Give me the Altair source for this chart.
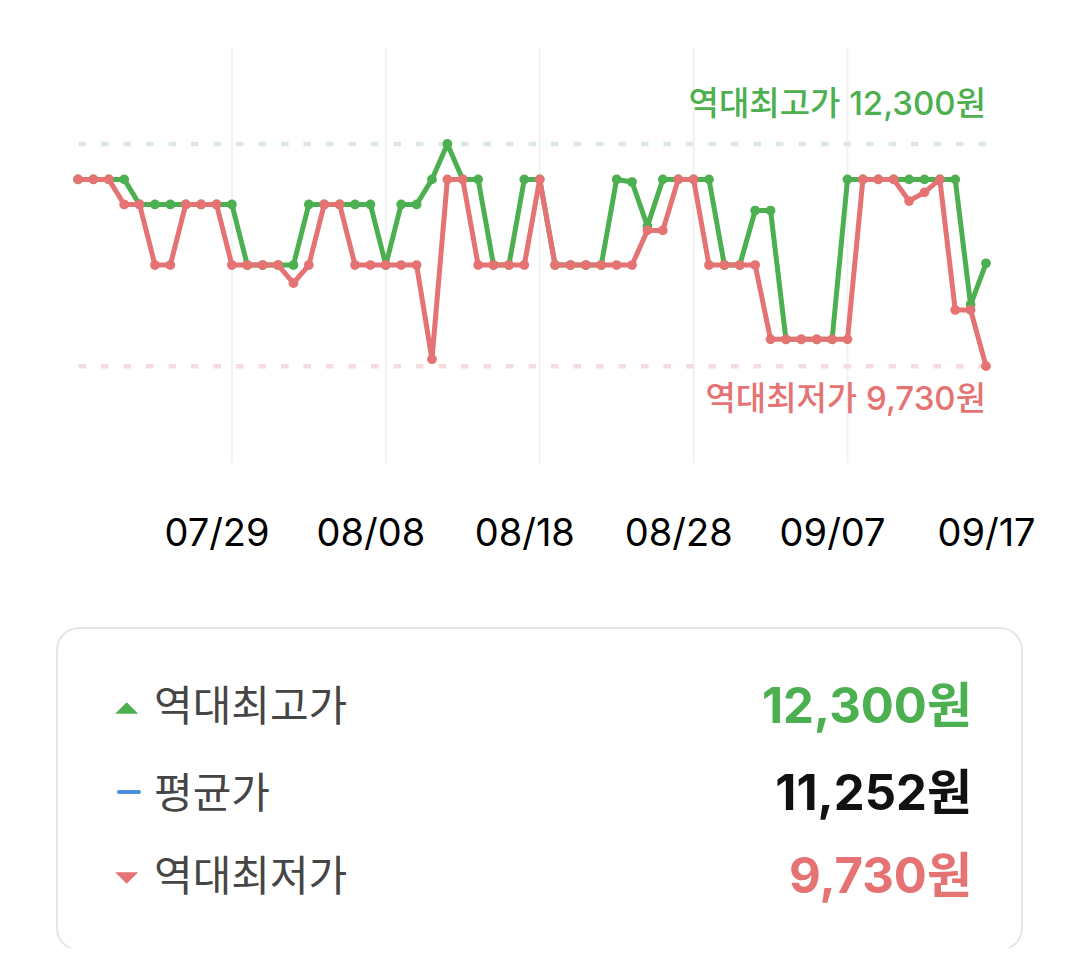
import altair as alt
import pandas as pd

# ---------------- data ----------------
dates = [d.strftime("%Y-%m-%dT00:00:00") for d in pd.date_range("2024-07-20", "2024-09-17", freq="D")]

high_prices = [11890, 11890, 11890, 11890, 11600, 11600, 11600, 11600, 11600, 11600,
               11600, 10900, 10900, 10900, 10900, 11600, 11600, 11600, 11600, 11600,
               10900, 11600, 11600, 11890, 12300, 11890, 11890, 10900, 10900, 11890,
               11890, 10900, 10900, 10900, 10900, 11890, 11860, 11350, 11890, 11890,
               11890, 11890, 10900, 10900, 11530, 11530, 10040, 10040, 10040, 10040,
               11890, 11890, 11890, 11890, 11890, 11890, 11890, 11890, 10440, 10920]

low_prices = [11890, 11890, 11890, 11600, 11600, 10900, 10900, 11600, 11600, 11600,
              10900, 10900, 10900, 10900, 10690, 10900, 11600, 11600, 10900, 10900,
              10900, 10900, 10900, 9810, 11890, 11890, 10900, 10900, 10900, 10900,
              11890, 10900, 10900, 10900, 10900, 10900, 10900, 11300, 11300, 11890,
              11890, 10900, 10900, 10900, 10900, 10040, 10040, 10040, 10040, 10040,
              10040, 11890, 11890, 11890, 11640, 11740, 11890, 10380, 10380, 9730]

tick_dates = ["2024-07-29", "2024-08-08", "2024-08-18", "2024-08-28", "2024-09-07", "2024-09-17"]
grid_dates = ["2024-07-30", "2024-08-09", "2024-08-19", "2024-08-29", "2024-09-08"]

record_high = 12300
record_low = 9730
average_price = 11252

ref_kinds = ["high", "low"]
ref_values = [record_high, record_low]
ref_labels = ["역대최고가 12,300원", "역대최저가 9,730원"]

summary_keys = ["high", "avg", "low"]
summary_labels = ["역대최고가", "평균가", "역대최저가"]
summary_values = ["12,300원", "11,252원", "9,730원"]

# ---------------- styling ----------------
GREEN = "#4caf50"
RED = "#e57373"
BLUE = "#4a8fe2"
GRAY_TEXT = "#454545"
FONT = "Inter, Noto Sans CJK KR"

prices = pd.DataFrame({"date": dates, "high": high_prices, "low": low_prices})
grid_df = pd.DataFrame({"date": [d + "T00:00:00" for d in grid_dates]})
refs = pd.DataFrame({"kind": ref_kinds, "value": ref_values, "label": ref_labels,
                     "date": [dates[-1]] * 2})
summary = pd.DataFrame({"key": summary_keys, "label": summary_labels, "value": summary_values})
box_df = pd.DataFrame({"box": [0]})


def dt(s):
    t = pd.Timestamp(s)
    return alt.DateTime(year=t.year, month=t.month, date=t.day)


x_scale = alt.Scale(domain=[dt(dates[0]), dt(dates[-1])], nice=False)
y_scale = alt.Scale(domain=[8610, 13410], nice=False, zero=False)
x_axis = alt.Axis(values=[dt(d) for d in tick_dates], format="%m/%d", labelFontSize=38,
                  labelFont="Inter", labelColor="#000000", ticks=False, domain=False,
                  grid=False, labelPadding=52, labelFlush=False, labelOverlap=False,
                  title=None)


def X(field="date:T"):
    return alt.X(field, scale=x_scale, axis=x_axis, title=None)


def Y(field):
    return alt.Y(field, scale=y_scale, axis=None, title=None)


grid = alt.Chart(grid_df).mark_rule(color="#f2f2f2", strokeWidth=2).encode(x=X())

ref_high_rule = alt.Chart(refs).transform_filter(alt.datum.kind == "high").mark_rule(
    color="#dbe9e6", strokeWidth=4.5, strokeDash=[7.5, 15]).encode(y=Y("value:Q"))
ref_low_rule = alt.Chart(refs).transform_filter(alt.datum.kind == "low").mark_rule(
    color="#f6dcdc", strokeWidth=4.5, strokeDash=[7.5, 15]).encode(y=Y("value:Q"))

ref_high_text = alt.Chart(refs).transform_filter(alt.datum.kind == "high").mark_text(
    align="right", baseline="middle", dy=-39, fontSize=33, font=FONT, color=GREEN,
    fontWeight=500).encode(x=X(), y=Y("value:Q"), text="label:N")
ref_low_text = alt.Chart(refs).transform_filter(alt.datum.kind == "low").mark_text(
    align="right", baseline="middle", dy=34, fontSize=33, font=FONT, color=RED,
    fontWeight=500).encode(x=X(), y=Y("value:Q"), text="label:N")

base = alt.Chart(prices)
high_line = base.mark_line(color=GREEN, strokeWidth=5, strokeJoin="round",
                           strokeCap="round").encode(x=X(), y=Y("high:Q"))
high_pts = base.mark_circle(color=GREEN, size=95, opacity=1).encode(x=X(), y=Y("high:Q"))
low_line = base.mark_line(color=RED, strokeWidth=5, strokeJoin="round",
                          strokeCap="round").encode(x=X(), y=Y("low:Q"))
low_pts = base.mark_circle(color=RED, size=95, opacity=1).encode(x=X(), y=Y("low:Q"))

# ---------------- summary box ----------------
box = alt.Chart(box_df).mark_rect(fill="white", stroke="#e6e6e6", strokeWidth=2,
                                  cornerRadius=22).encode(
    x=alt.value(-21), x2=alt.value(944), y=alt.value(580), y2=alt.value(902))

row_y = {"high": 660, "avg": 747, "low": 830}
value_colors = {"high": GREEN, "avg": "#111111", "low": RED}

layers = [box]
up_tri = alt.Chart(summary).transform_filter(alt.datum.key == "high").mark_point(
    shape="M-1,0.5L1,0.5L0,-0.5Z", filled=True, size=529, color=GREEN, opacity=1,
    strokeWidth=0).encode(x=alt.value(48.7), y=alt.value(row_y["high"]))
down_tri = alt.Chart(summary).transform_filter(alt.datum.key == "low").mark_point(
    shape="M-1,-0.5L1,-0.5L0,0.5Z", filled=True, size=529, color=RED, opacity=1,
    strokeWidth=0).encode(x=alt.value(48.7), y=alt.value(row_y["low"]))
avg_dash = alt.Chart(summary).transform_filter(alt.datum.key == "avg").mark_rule(
    color=BLUE, strokeWidth=4, strokeCap="round").encode(
    x=alt.value(41), x2=alt.value(61), y=alt.value(row_y["avg"] - 3))
layers += [up_tri, down_tri, avg_dash]

for k in summary_keys:
    lab = alt.Chart(summary).transform_filter(alt.datum.key == k).mark_text(
        align="left", baseline="middle", fontSize=42, font=FONT, color=GRAY_TEXT).encode(
        x=alt.value(76), y=alt.value(row_y[k]), text="label:N")
    val = alt.Chart(summary).transform_filter(alt.datum.key == k).mark_text(
        align="right", baseline="middle", fontSize=49, font=FONT, fontWeight="bold",
        color=value_colors[k]).encode(
        x=alt.value(894), y=alt.value(row_y[k]), text="value:N")
    layers += [lab, val]

chart = alt.layer(
    grid, ref_high_rule, ref_low_rule, ref_high_text, ref_low_text,
    high_line, high_pts, low_line, low_pts, *layers
).properties(
    width=908, height=415,
    autosize=alt.AutoSizeParams(type="none"),
    padding={"left": 70, "top": 40, "right": 86, "bottom": 485},
    background="white",
).configure_view(stroke=None)

chart.save("out.html", embed_options={"renderer": "svg", "actions": False})
